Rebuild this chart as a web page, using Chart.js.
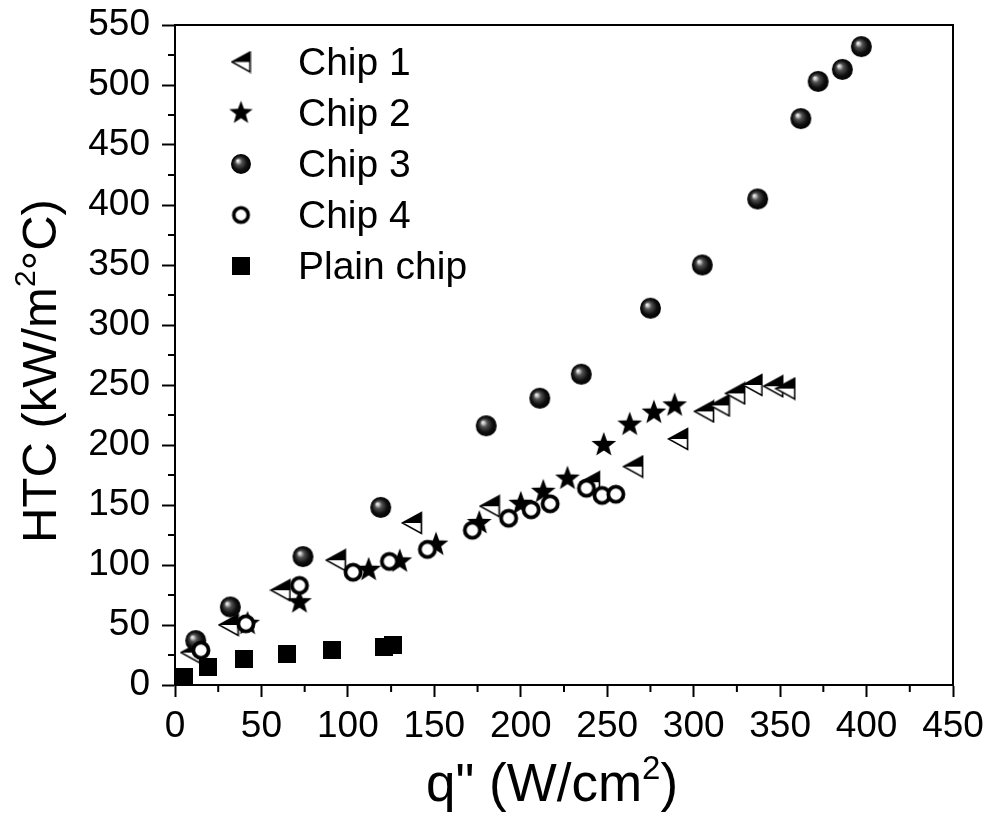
<!DOCTYPE html>
<html>
<head>
<meta charset="utf-8">
<script src="https://cdn.jsdelivr.net/npm/chart.js@4.4.0/dist/chart.umd.min.js"></script>
<style>
  html, body { margin: 0; padding: 0; background: #fff; }
  #wrap { width: 990px; height: 818px; }
</style>
</head>
<body>
<div id="wrap"><canvas id="htcChart" width="990" height="818"></canvas></div>
<script>
var seriesNames = ["Chip 1", "Chip 2", "Chip 3", "Chip 4", "Plain chip"];

// heat flux q'' (W/cm2) / HTC (kW/m2 C)
var chip1Q = [9, 31, 61, 93, 137, 182, 240, 265, 291, 306, 315, 324, 334, 346, 353];
var chip1H = [27, 50, 79, 104, 135, 149, 169, 182, 205, 228, 233, 243, 250, 249, 247];
var chip2Q = [42, 72, 112, 130, 151, 176, 200, 213, 227, 248, 263, 277, 289];
var chip2H = [51, 69, 96, 103, 117, 135, 151, 161, 172, 200, 217, 227, 233];
var chip3Q = [12, 32, 74, 119, 180, 211, 235, 275, 305, 337, 362, 372, 386, 397];
var chip3H = [37, 65, 107, 148, 216, 239, 259, 314, 350, 405, 472, 503, 513, 532];
var chip4Q = [15, 41, 72, 103, 124, 146, 172, 193, 206, 217, 238, 247, 255];
var chip4H = [29, 51, 83, 94, 103, 113, 129, 139, 146, 151, 164, 158, 159];
var plainQ = [5, 19, 40, 65, 91, 121, 126];
var plainH = [7, 15, 22, 26, 29, 32, 33];

var xMax = 450;
var yMax = 550;
var majorStep = 50;
var minorStep = 25;

// axis titles: [before superscript, superscript, after]
var xTitle = ['q" (W/cm', "2", ")"];
var yTitle = ["HTC (kW/m", "2", "°C)"];

var FONT = "'Liberation Sans', Arial, Helvetica, sans-serif";

function pts(xs, ys) {
  var out = [];
  for (var i = 0; i < xs.length; i++) out.push({ x: xs[i], y: ys[i] });
  return out;
}

function makeCanvas(w, h) {
  var c = document.createElement("canvas");
  c.width = w;
  c.height = h;
  return c;
}

// left triangle, top half black, bottom half white
function triMarker(s) {
  var w = Math.round(22 * s), h = Math.round(24 * s);
  var c = makeCanvas(w, h), ctx = c.getContext("2d");
  ctx.beginPath();
  ctx.moveTo(1.5, h / 2);
  ctx.lineTo(w - 1.5, 1.5);
  ctx.lineTo(w - 1.5, h - 1.5);
  ctx.closePath();
  ctx.fillStyle = "#fff";
  ctx.fill();
  ctx.save();
  ctx.clip();
  ctx.fillStyle = "#000";
  ctx.fillRect(0, 0, w, h / 2);
  ctx.restore();
  ctx.lineWidth = 1.6;
  ctx.strokeStyle = "#000";
  ctx.stroke();
  return c;
}

function starMarker(s) {
  var R = 13 * s, r = 5.4 * s, n = Math.ceil(R * 2 + 2);
  var c = makeCanvas(n, n), ctx = c.getContext("2d");
  ctx.beginPath();
  for (var i = 0; i < 10; i++) {
    var a = -Math.PI / 2 + i * Math.PI / 5;
    var rr = i % 2 === 0 ? R : r;
    ctx.lineTo(n / 2 + rr * Math.cos(a), n / 2 + rr * Math.sin(a));
  }
  ctx.closePath();
  ctx.fillStyle = "#000";
  ctx.fill();
  return c;
}

function sphereMarker(s) {
  var r = 10.5 * s, n = Math.ceil(r * 2 + 2), cx = n / 2;
  var c = makeCanvas(n, n), ctx = c.getContext("2d");
  var g = ctx.createRadialGradient(cx - r * 0.35, cx - r * 0.35, 0, cx, cx, r);
  g.addColorStop(0, "#ffffff");
  g.addColorStop(0.12, "#d0d0d0");
  g.addColorStop(0.35, "#505050");
  g.addColorStop(0.7, "#111111");
  g.addColorStop(1, "#000000");
  ctx.beginPath();
  ctx.arc(cx, cx, r, 0, Math.PI * 2);
  ctx.fillStyle = g;
  ctx.fill();
  return c;
}

function ringMarker(s) {
  var r = 7.6 * s, n = Math.ceil(r * 2 + 6), cx = n / 2;
  var c = makeCanvas(n, n), ctx = c.getContext("2d");
  ctx.beginPath();
  ctx.arc(cx, cx, r, 0, Math.PI * 2);
  ctx.fillStyle = "#fff";
  ctx.fill();
  ctx.lineWidth = 3.8 * s;
  ctx.strokeStyle = "#000";
  ctx.stroke();
  return c;
}

function squareMarker(s) {
  var n = Math.round(18 * s);
  var c = makeCanvas(n, n), ctx = c.getContext("2d");
  ctx.fillStyle = "#000";
  ctx.fillRect(0, 0, n, n);
  return c;
}

var plotMarkers = [triMarker(1), starMarker(1), sphereMarker(1), ringMarker(1), squareMarker(1)];
var legendMarkers = [triMarker(0.95), starMarker(0.95), sphereMarker(0.95), ringMarker(0.95), squareMarker(1)];

// text with a raised small "2", centred on (0,0) of the current transform
function drawSupText(ctx, parts, size) {
  var big = size + "px " + FONT, small = Math.round(size * 0.62) + "px " + FONT;
  ctx.font = big;
  var w0 = ctx.measureText(parts[0]).width;
  var w2 = ctx.measureText(parts[2]).width;
  ctx.font = small;
  var w1 = ctx.measureText(parts[1]).width;
  var x = -(w0 + w1 + w2) / 2;
  ctx.textAlign = "left";
  ctx.textBaseline = "alphabetic";
  ctx.font = big;
  ctx.fillText(parts[0], x, 0);
  ctx.font = small;
  ctx.fillText(parts[1], x + w0, -size * 0.42);
  ctx.font = big;
  ctx.fillText(parts[2], x + w0 + w1, 0);
}

// frame, minor ticks, axis titles and legend
var framePlugin = {
  id: "frame",
  afterDraw: function (chart) {
    var ctx = chart.ctx, a = chart.chartArea;
    var xs = chart.scales.x, ys = chart.scales.y;
    ctx.save();
    ctx.strokeStyle = "#000";
    ctx.lineWidth = 2;
    ctx.beginPath();
    ctx.moveTo(a.left, a.top);
    ctx.lineTo(a.right, a.top);
    ctx.lineTo(a.right, a.bottom);
    ctx.stroke();

    ctx.beginPath();
    for (var v = minorStep; v < xMax; v += majorStep) {
      var px = xs.getPixelForValue(v);
      ctx.moveTo(px, a.bottom);
      ctx.lineTo(px, a.bottom + 7);
    }
    for (var w = minorStep; w < yMax; w += majorStep) {
      var py = ys.getPixelForValue(w);
      ctx.moveTo(a.left, py);
      ctx.lineTo(a.left - 7, py);
    }
    ctx.stroke();

    ctx.fillStyle = "#000";
    ctx.save();
    ctx.translate(552, 801);
    drawSupText(ctx, xTitle, 53);
    ctx.restore();

    ctx.save();
    ctx.translate(56, 371);
    ctx.rotate(-Math.PI / 2);
    drawSupText(ctx, yTitle, 49);
    ctx.restore();

    ctx.font = "39px " + FONT;
    ctx.textBaseline = "middle";
    ctx.textAlign = "left";
    chart.data.datasets.forEach(function (ds, i) {
      var ly = a.top + 37 + i * 51;
      var m = legendMarkers[i];
      ctx.drawImage(m, a.left + 66 - m.width / 2, ly - m.height / 2);
      ctx.fillText(ds.label, a.left + 123, ly + 2);
    });
    ctx.restore();
  }
};

var ctxHtc = document.getElementById("htcChart");
var chartHtc = new Chart(ctxHtc, {
  type: "scatter",
  data: {
    datasets: [
      { label: seriesNames[0], data: pts(chip1Q, chip1H), pointStyle: plotMarkers[0], order: 5 },
      { label: seriesNames[1], data: pts(chip2Q, chip2H), pointStyle: plotMarkers[1], order: 4 },
      { label: seriesNames[2], data: pts(chip3Q, chip3H), pointStyle: plotMarkers[2], order: 3 },
      { label: seriesNames[3], data: pts(chip4Q, chip4H), pointStyle: plotMarkers[3], order: 2 },
      { label: seriesNames[4], data: pts(plainQ, plainH), pointStyle: plotMarkers[4], order: 1 },
    ].map(function (d) {
      d.clip = false;
      d.pointHoverRadius = 0;
      return d;
    }),
  },
  options: {
    responsive: false,
    animation: false,
    devicePixelRatio: 1,
    layout: { padding: { top: 25, right: 37, left: 0, bottom: 0 } },
    plugins: {
      legend: { display: false },
      tooltip: { enabled: false },
    },
    scales: {
      x: {
        type: "linear",
        min: 0,
        max: xMax,
        ticks: {
          stepSize: majorStep,
          color: "#000",
          padding: 8,
          maxRotation: 0,
          font: { family: FONT, size: 37 },
        },
        grid: { drawOnChartArea: false, drawTicks: true, tickLength: 12, tickWidth: 2, tickColor: "#000" },
        border: { display: true, color: "#000", width: 2 },
        afterFit: function (s) {
          s.height = 133;
          s.paddingLeft = 0;
          s.paddingRight = 0;
        },
      },
      y: {
        type: "linear",
        min: 0,
        max: yMax,
        ticks: {
          stepSize: majorStep,
          color: "#000",
          padding: 12,
          font: { family: FONT, size: 37 },
        },
        grid: { drawOnChartArea: false, drawTicks: true, tickLength: 13, tickWidth: 2, tickColor: "#000" },
        border: { display: true, color: "#000", width: 2 },
        afterFit: function (s) {
          s.width = 175;
          s.paddingTop = 0;
          s.paddingBottom = 0;
        },
      },
    },
  },
  plugins: [framePlugin],
});
</script>
</body>
</html>
